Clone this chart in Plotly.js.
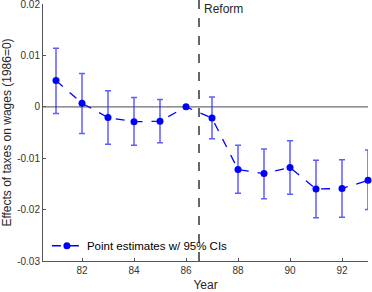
<!DOCTYPE html>
<html>
<head>
<meta charset="utf-8">
<script src="https://cdn.plot.ly/plotly-3.0.1.min.js"></script>
<style>html,body{margin:0;padding:0;background:#fff;}#chart{width:372px;height:292px;}</style>
</head>
<body>
<div id="chart"></div>
<script>
// Data
const years = [81, 82, 83, 84, 85, 86, 87, 88, 89, 90, 91, 92, 93];
const estimates = [0.0051, 0.0007, -0.0021, -0.0029, -0.0028, 0, -0.0022, -0.0122, -0.0130, -0.0118, -0.0160, -0.0159, -0.0143];
const ciUpper = [0.0114, 0.0065, 0.0031, 0.0018, 0.0014, 0, 0.0019, -0.0075, -0.0082, -0.0066, -0.0104, -0.0103, -0.0084];
const ciLower = [-0.0013, -0.0052, -0.0073, -0.0075, -0.0070, 0, -0.0062, -0.0168, -0.0179, -0.0170, -0.0216, -0.0215, -0.0200];
const xTicks = [82, 84, 86, 88, 90, 92];
const yTicks = [0.02, 0.01, 0, -0.01, -0.02, -0.03];
const yTickText = ["0.02", "0.01", "0", "-0.01", "-0.02", "-0.03"];
const reformYear = 86.5;
const legendLabel = "Point estimates w/ 95% CIs";

const errPlus = estimates.map((v, i) => ciUpper[i] - v);
const errMinus = estimates.map((v, i) => v - ciLower[i]);

const trace = {
  x: years,
  y: estimates,
  type: 'scatter',
  mode: 'lines+markers',
  name: legendLabel,
  cliponaxis: false,
  line: {color: '#0000ff', width: 1.3, dash: 'dash'},
  marker: {color: '#0000ff', size: 7},
  error_y: {
    type: 'data', symmetric: false,
    array: errPlus, arrayminus: errMinus,
    color: 'rgba(40,40,255,0.75)', thickness: 1.5, width: 3
  }
};

const layout = {
  width: 372, height: 292,
  margin: {l: 43, r: 4, t: 4, b: 31},
  paper_bgcolor: '#fff', plot_bgcolor: '#fff',
  font: {family: 'Liberation Sans, Arial, sans-serif', color: '#262626', size: 10},
  showlegend: true,
  legend: {x: 0.012, y: 0.003, xanchor: 'left', yanchor: 'bottom', bgcolor: 'rgba(0,0,0,0)',
           font: {size: 11.5, color: '#000'}, itemwidth: 30},
  xaxis: {
    range: [80.5, 93], tickvals: xTicks, ticktext: xTicks.map(String),
    ticks: 'inside', ticklen: 3, tickcolor: '#555', showline: true, linecolor: '#555', linewidth: 1,
    showgrid: false, zeroline: false, mirror: false, ticklabeloverflow: 'allow',
    title: {text: 'Year', font: {size: 12, color: '#262626'}, standoff: 6},
    tickfont: {size: 10, color: '#333'}
  },
  yaxis: {
    range: [-0.03, 0.02], tickvals: yTicks, ticktext: yTickText,
    ticks: 'inside', ticklen: 3, tickcolor: '#555', showline: true, linecolor: '#555', linewidth: 1,
    showgrid: false, zeroline: false, ticklabeloverflow: 'allow',
    title: {text: 'Effects of taxes on wages (1986=0)', font: {size: 12, color: '#262626'}, standoff: 4},
    tickfont: {size: 10, color: '#333'}
  },
  shapes: [
    {type: 'line', xref: 'x', yref: 'y', x0: 80.5, x1: 93, y0: 0, y1: 0,
     line: {color: '#6e6e6e', width: 1.2}, layer: 'below'},
    {type: 'line', xref: 'x', yref: 'paper', x0: reformYear, x1: reformYear, y0: 0, y1: 1.02,
     line: {color: '#404040', width: 1.6, dash: 'dash'}, layer: 'above'}
  ],
  annotations: [
    {xref: 'x', yref: 'paper', x: reformYear, y: 1.0, xanchor: 'left', yanchor: 'top',
     xshift: 3, yshift: 4, text: 'Reform', showarrow: false, font: {size: 12, color: '#262626'}}
  ]
};

Plotly.newPlot('chart', [trace], layout, {displayModeBar: false, staticPlot: true});
</script>
</body>
</html>
